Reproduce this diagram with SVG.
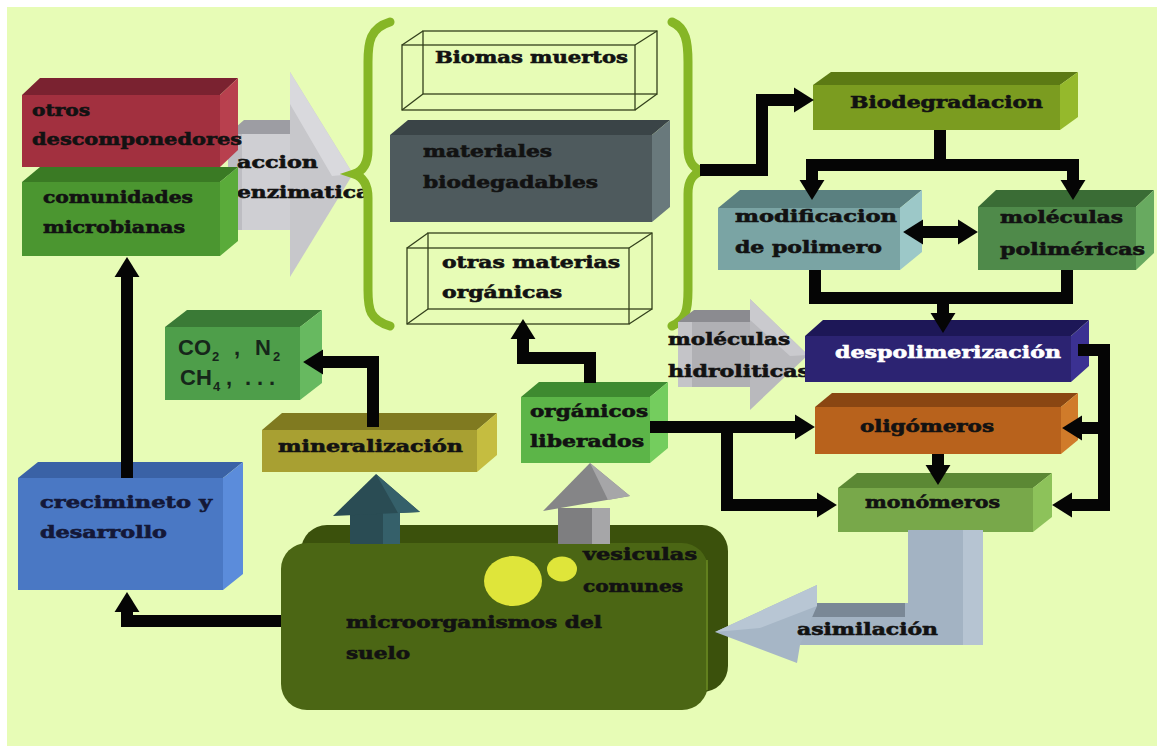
<svg xmlns="http://www.w3.org/2000/svg" width="1157" height="746" viewBox="0 0 1157 746">
<style>
.t{font-family:"DejaVu Serif","Liberation Serif",serif;font-weight:bold;font-size:17px;fill:#121212;stroke:#121212;stroke-width:0.6}
.w{fill:#ffffff;stroke:#ffffff}
.s{font-family:"Liberation Sans",Arial,sans-serif;font-weight:bold;font-size:22px;fill:#16261a}
.sub{font-size:13px}
.conn{fill:none;stroke:#050505;stroke-width:12;stroke-linejoin:miter}
.wire{fill:none;stroke:#33401c;stroke-width:1.3}
.brace{fill:none;stroke:#86b626;stroke-width:9;stroke-linecap:round}
</style>
<defs>
<marker id="ah" viewBox="0 0 16 20" refX="1" refY="10" markerWidth="1.7" markerHeight="2.1" orient="auto-start-reverse" markerUnits="strokeWidth">
<path d="M0,0 L16,10 L0,20 z" fill="#050505"/>
</marker>
</defs>
<rect width="1157" height="746" fill="#ffffff"/>
<rect x="7" y="7" width="1150" height="739" fill="#e7fcb6"/>

<g id="accion-arrow">
<polygon points="290,72 353,174 290,277" fill="#c7c7cb"/>
<polygon points="290,72 353,174 332,176 290,104" fill="#d9d9dd"/>
<rect x="228" y="134" width="62" height="96" fill="#cfcfd3"/>
<rect x="228" y="134" width="14" height="96" fill="#bdbdc2"/>
<polygon points="228,134 244,120 290,120 290,134" fill="#9d9da3"/>
<text class="t" x="237" y="168" textLength="81" lengthAdjust="spacingAndGlyphs">accion</text>
<text class="t" x="237" y="198" textLength="133" lengthAdjust="spacingAndGlyphs">enzimatica</text>
</g>

<g id="comunidades">
<rect x="22" y="182" width="198" height="74" fill="#4b9630"/>
<polygon points="22,182 40,167 238,167 220,182" fill="#3a7a24"/>
<polygon points="220,182 238,167 238,241 220,256" fill="#5aab3a"/>
<text class="t" x="43" y="203" textLength="150" lengthAdjust="spacingAndGlyphs">comunidades</text>
<text class="t" x="43" y="233" textLength="142" lengthAdjust="spacingAndGlyphs">microbianas</text>
</g>

<g id="otros">
<rect x="22" y="95" width="198" height="72" fill="#a2303f"/>
<polygon points="22,95 40,78 238,78 220,95" fill="#7a2230"/>
<polygon points="220,95 238,78 238,150 220,167" fill="#b8404e"/>
<text class="t" x="32" y="116" textLength="58" lengthAdjust="spacingAndGlyphs">otros</text>
<text class="t" x="32" y="145" textLength="210" lengthAdjust="spacingAndGlyphs">descomponedores</text>
</g>

<g id="braces">
<path class="brace" d="M390,22 C370,28 368,42 368,62 L368,150 C368,164 363,171 354,174 C363,177 368,184 368,198 L368,290 C368,310 370,320 390,326"/>
<path class="brace" d="M672,22 C686,28 688,42 688,62 L688,148 C688,162 693,168 702,171 C693,174 688,180 688,194 L688,290 C688,310 686,320 672,326"/>
</g>

<g id="biomas">
<rect class="wire" x="423" y="31" width="234" height="63"/>
<line class="wire" x1="402" y1="45" x2="423" y2="31"/>
<line class="wire" x1="635" y1="45" x2="657" y2="31"/>
<line class="wire" x1="635" y1="110" x2="657" y2="94"/>
<line class="wire" x1="402" y1="110" x2="423" y2="94"/>
<rect class="wire" x="402" y="45" width="233" height="65"/>
<text class="t" x="435" y="63" textLength="193" lengthAdjust="spacingAndGlyphs">Biomas muertos</text>
</g>

<g id="materiales">
<rect x="390" y="135" width="262" height="87" fill="#4e5a5d"/>
<polygon points="390,135 408,120 670,120 652,135" fill="#3a4447"/>
<polygon points="652,135 670,120 670,207 652,222" fill="#69797c"/>
<text class="t" x="423" y="157" textLength="129" lengthAdjust="spacingAndGlyphs">materiales</text>
<text class="t" x="423" y="188" textLength="175" lengthAdjust="spacingAndGlyphs">biodegadables</text>
</g>

<g id="otras">
<rect class="wire" x="428" y="233" width="224" height="76"/>
<line class="wire" x1="407" y1="248" x2="428" y2="233"/>
<line class="wire" x1="629" y1="248" x2="652" y2="233"/>
<line class="wire" x1="629" y1="324" x2="652" y2="309"/>
<line class="wire" x1="407" y1="324" x2="428" y2="309"/>
<rect class="wire" x="407" y="248" width="222" height="76"/>
<text class="t" x="442" y="268" textLength="178" lengthAdjust="spacingAndGlyphs">otras materias</text>
<text class="t" x="442" y="298" textLength="120" lengthAdjust="spacingAndGlyphs">orgánicas</text>
</g>

<g id="biodegradacion">
<rect x="813" y="85" width="247" height="45" fill="#7b9c20"/>
<polygon points="813,85 831,72 1078,72 1060,85" fill="#5c7a14"/>
<polygon points="1060,85 1078,72 1078,117 1060,130" fill="#95b92c"/>
<text class="t" x="850" y="108" textLength="193" lengthAdjust="spacingAndGlyphs">Biodegradacion</text>
</g>

<g id="modificacion">
<rect x="718" y="208" width="182" height="62" fill="#7aa4a4"/>
<polygon points="718,208 740,190 922,190 900,208" fill="#5a8080"/>
<polygon points="900,208 922,190 922,252 900,270" fill="#9cc8c8"/>
<text class="t" x="735" y="222" textLength="162" lengthAdjust="spacingAndGlyphs">modificacion</text>
<text class="t" x="735" y="253" textLength="147" lengthAdjust="spacingAndGlyphs">de polimero</text>
</g>

<g id="moleculas-polimericas">
<rect x="978" y="207" width="158" height="63" fill="#4f8a4a"/>
<polygon points="978,207 996,190 1154,190 1136,207" fill="#3a6c35"/>
<polygon points="1136,207 1154,190 1154,253 1136,270" fill="#68aa60"/>
<text class="t" x="1000" y="223" textLength="123" lengthAdjust="spacingAndGlyphs">moléculas</text>
<text class="t" x="1000" y="255" textLength="145" lengthAdjust="spacingAndGlyphs">poliméricas</text>
</g>

<g id="hidroliticas">
<polygon points="750,299 808,355 750,410" fill="#b9b9bd"/>
<polygon points="750,299 808,355 790,356 750,320" fill="#cacace"/>
<rect x="678" y="322" width="72" height="65" fill="#b0b0b4"/>
<rect x="678" y="322" width="14" height="65" fill="#c4c4c8"/>
<polygon points="678,322 694,310 750,310 750,322" fill="#8b8b90"/>
<text class="t" x="668" y="345" textLength="122" lengthAdjust="spacingAndGlyphs">moléculas</text>
<text class="t" x="668" y="377" textLength="142" lengthAdjust="spacingAndGlyphs">hidroliticas</text>
</g>

<g id="despolimerizacion">
<rect x="805" y="336" width="266" height="46" fill="#2c2372"/>
<polygon points="805,336 823,320 1089,320 1071,336" fill="#1d1757"/>
<polygon points="1071,336 1089,320 1089,366 1071,382" fill="#3b3192"/>
<text class="t w" x="835" y="358" textLength="226" lengthAdjust="spacingAndGlyphs">despolimerización</text>
</g>

<g id="oligomeros">
<rect x="815" y="407" width="246" height="47" fill="#b8621c"/>
<polygon points="815,407 832,393 1078,393 1061,407" fill="#8a4612"/>
<polygon points="1061,407 1078,393 1078,440 1061,454" fill="#d07b2a"/>
<text class="t" x="860" y="432" textLength="134" lengthAdjust="spacingAndGlyphs">oligómeros</text>
</g>

<g id="monomeros">
<rect x="838" y="488" width="195" height="44" fill="#78a84a"/>
<polygon points="838,488 857,473 1052,473 1033,488" fill="#5b8834"/>
<polygon points="1033,488 1052,473 1052,517 1033,532" fill="#8dc25a"/>
<text class="t" x="865" y="508" textLength="135" lengthAdjust="spacingAndGlyphs">monómeros</text>
</g>

<g id="organicos-liberados">
<rect x="521" y="397" width="129" height="66" fill="#5cb548"/>
<polygon points="521,397 539,382 668,382 650,397" fill="#3e8a30"/>
<polygon points="650,397 668,382 668,448 650,463" fill="#74cd5e"/>
<text class="t" x="530" y="417" textLength="118" lengthAdjust="spacingAndGlyphs">orgánicos</text>
<text class="t" x="530" y="447" textLength="114" lengthAdjust="spacingAndGlyphs">liberados</text>
</g>

<g id="co2">
<rect x="165" y="327" width="135" height="73" fill="#4e9e4a"/>
<polygon points="165,327 187,310 322,310 300,327" fill="#3a7a36"/>
<polygon points="300,327 322,310 322,383 300,400" fill="#67b960"/>
<text class="s"><tspan x="178" y="355">CO</tspan><tspan class="sub" x="212" y="361">2</tspan><tspan x="234" y="355">,</tspan><tspan x="255" y="355">N</tspan><tspan class="sub" x="273" y="361">2</tspan></text>
<text class="s"><tspan x="180" y="385">CH</tspan><tspan class="sub" x="213" y="391">4</tspan><tspan x="226" y="385">,</tspan><tspan x="245 257 269" y="385">...</tspan></text>
</g>

<g id="mineralizacion">
<rect x="262" y="430" width="215" height="42" fill="#a8a032"/>
<polygon points="262,430 282,413 497,413 477,430" fill="#807a20"/>
<polygon points="477,430 497,413 497,455 477,472" fill="#c5bd40"/>
<text class="t" x="278" y="452" textLength="185" lengthAdjust="spacingAndGlyphs">mineralización</text>
</g>

<g id="crecimiento">
<rect x="18" y="478" width="205" height="112" fill="#4a78c4"/>
<polygon points="18,478 38,462 243,462 223,478" fill="#3a62a6"/>
<polygon points="223,478 243,462 243,574 223,590" fill="#5b8cdb"/>
<text class="t" x="40" y="508" textLength="172" lengthAdjust="spacingAndGlyphs" style="fill:#141838;stroke:#141838">crecimineto y</text>
<text class="t" x="40" y="538" textLength="127" lengthAdjust="spacingAndGlyphs" style="fill:#141838;stroke:#141838">desarrollo</text>
</g>

<g id="microorganismos">
<rect x="301" y="525" width="427" height="167" rx="26" fill="#3b510c"/>
<rect x="281" y="543" width="427" height="167" rx="26" fill="#4b6614"/>
<line x1="707" y1="560" x2="707" y2="690" stroke="#6a8a22" stroke-width="1.5"/>
<ellipse cx="513" cy="581" rx="29" ry="25" fill="#dfe53a"/>
<ellipse cx="562" cy="569" rx="15" ry="12.5" fill="#dfe53a"/>
<text class="t" x="583" y="560" textLength="114" lengthAdjust="spacingAndGlyphs">vesiculas</text>
<text class="t" x="583" y="592" textLength="100" lengthAdjust="spacingAndGlyphs">comunes</text>
<text class="t" x="346" y="628" textLength="256" lengthAdjust="spacingAndGlyphs">microorganismos del</text>
<text class="t" x="346" y="659" textLength="64" lengthAdjust="spacingAndGlyphs">suelo</text>
</g>

<g id="up-arrow-mineralizacion">
<rect x="350" y="512" width="50" height="32" fill="#2a4c54"/>
<rect x="383" y="512" width="17" height="32" fill="#35606a"/>
<polygon points="333,516 376,474 420,512" fill="#2a4c54"/>
<polygon points="376,474 420,512 398,513" fill="#35606a"/>
</g>

<g id="up-arrow-organicos">
<rect x="558" y="508" width="52" height="36" fill="#7e7e80"/>
<rect x="592" y="508" width="18" height="36" fill="#a6a6a8"/>
<polygon points="543,511 590,463 630,496" fill="#858587"/>
<polygon points="590,463 630,496 608,500" fill="#a6a6a8"/>
</g>

<g id="asimilacion-arrow">
<rect x="908" y="530" width="75" height="115" fill="#a3b3c3"/>
<rect x="963" y="530" width="20" height="115" fill="#b6c4d2"/>
<rect x="800" y="603" width="163" height="42" fill="#a3b3c3"/>
<rect x="800" y="603" width="105" height="14" fill="#7a8896"/>
<polygon points="817,585 715,632 797,663 800,645 817,606" fill="#a6b6c6"/>
<polygon points="817,585 715,632 760,628 817,606" fill="#b8c6d4"/>
<text class="t" x="797" y="635" textLength="141" lengthAdjust="spacingAndGlyphs">asimilación</text>
</g>

<g id="connectors">
<path class="conn" d="M700,170 H762 V100 H795" marker-end="url(#ah)"/>
<path class="conn" d="M940,130 V165"/>
<path class="conn" d="M940,165 H812 V181" marker-end="url(#ah)"/>
<path class="conn" d="M940,165 H1073 V181" marker-end="url(#ah)"/>
<path class="conn" d="M922,232 H959" marker-start="url(#ah)" marker-end="url(#ah)"/>
<path class="conn" d="M815,270 V298 H1067 V270"/>
<path class="conn" d="M943,292 V314" marker-end="url(#ah)"/>
<path class="conn" d="M1078,350 H1104 V505 H1071" marker-end="url(#ah)"/>
<path class="conn" d="M1104,428 H1081" marker-end="url(#ah)"/>
<path class="conn" d="M938,454 V466" marker-end="url(#ah)"/>
<path class="conn" d="M650,427 H796" marker-end="url(#ah)"/>
<path class="conn" d="M727,427 V505 H818" marker-end="url(#ah)"/>
<path class="conn" d="M590,383 V358 H523 V338" marker-end="url(#ah)"/>
<path class="conn" d="M373,427 V362 H322" marker-end="url(#ah)"/>
<path class="conn" d="M127,478 V276" marker-end="url(#ah)"/>
<path class="conn" d="M281,621 H127 V611" marker-end="url(#ah)"/>
</g>
</svg>
